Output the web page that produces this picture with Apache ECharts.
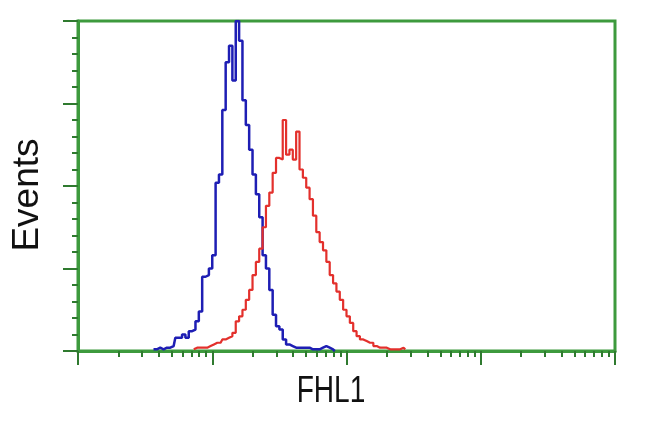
<!DOCTYPE html>
<html>
<head>
<meta charset="utf-8">
<script src="https://cdn.jsdelivr.net/npm/echarts@6/dist/echarts.min.js"></script>
<style>html,body{margin:0;padding:0;background:#fff}#c{width:650px;height:432px}</style>
</head>
<body>
<div id="c"></div>
<script>
// x axis in decades (log10 of FHL1 intensity), histogram bins of 1/40 decade
const binWidth = 1 / 40;
const blueStart = 0.55;
const redStart = 0.85;
const blueCounts = [1,1,2,1,2,2,3,8,8,10,8,12,13,18,24,45,46,50,58,102,107,146,175,185,164,200,188,152,137,122,107,95,81,58,50,37,22,15,13,7,4,3,2,2,2,2,2,1,1,1,2,3,2,1,0];
const redCounts = [1,2,2,2,2,3,4,5,5,7,8,9,11,18,21,25,31,37,46,54,62,75,88,96,108,117,116,140,119,122,116,133,110,105,99,92,82,72,66,61,54,46,41,36,31,25,21,17,12,9,7,6,5,5,3,2,2,2,1,1,1,1,2,1];
const majorDecades = [0, 1, 2, 3, 4];
const minorMultipliers = [2, 3, 4, 5, 6, 7, 8, 9];
const yMax = 200, yInterval = 50;
const xLabel = 'FHL1', yLabel = 'Events';

function toPairs(start, counts) {
  return counts.map((c, i) => [start + (i + 0.5) * binWidth, c]);
}
const minorTicks = [];
for (let k = 0; k < 4; k++) minorMultipliers.forEach(m => minorTicks.push(k + Math.log10(m)));

const green = '#3d9a3d', tickGreen = '#2f7a2f';
const chart = echarts.init(document.getElementById('c'), null, {renderer: 'canvas'});
chart.setOption({
  animation: false,
  backgroundColor: '#fff',
  grid: {left: 78, right: 35, top: 21, bottom: 81, show: true, borderColor: green, borderWidth: 3, backgroundColor: 'transparent'},
  xAxis: [
    {type: 'value', min: 0, max: 4, position: 'bottom',
     axisLine: {show: true, lineStyle: {color: green, width: 3}},
     axisTick: {show: true, inside: false, length: 14, customValues: majorDecades, lineStyle: {color: tickGreen, width: 2}},
     axisLabel: {show: false}, splitLine: {show: false}},
    {type: 'value', min: 0, max: 4, position: 'bottom',
     axisLine: {show: false},
     axisTick: {show: true, inside: false, length: 6, customValues: minorTicks, lineStyle: {color: tickGreen, width: 2}},
     axisLabel: {show: false}, splitLine: {show: false}}
  ],
  yAxis: {type: 'value', min: 0, max: yMax, interval: yInterval,
    axisLine: {show: true, lineStyle: {color: green, width: 3}},
    axisTick: {show: true, inside: false, length: 15, lineStyle: {color: tickGreen, width: 2}},
    minorTick: {show: true, splitNumber: 5, length: 6, lineStyle: {color: tickGreen, width: 2}},
    axisLabel: {show: false}, splitLine: {show: false}, minorSplitLine: {show: false}},
  series: [
    {type: 'line', step: 'middle', showSymbol: false, symbol: 'none', data: toPairs(blueStart, blueCounts),
     lineStyle: {color: '#1e1eb4', width: 2.5}, z: 3},
    {type: 'line', step: 'middle', showSymbol: false, symbol: 'none', data: toPairs(redStart, redCounts),
     lineStyle: {color: '#e3302c', width: 2.2}, z: 4}
  ],
  graphic: [
    {type: 'text', x: 331, y: 392, scaleX: 0.78, style: {text: xLabel, font: '36px "Liberation Sans", Arial, sans-serif', fill: '#111', textAlign: 'center', textVerticalAlign: 'middle'}},
    {type: 'text', x: 28, y: 195, rotation: Math.PI / 2, style: {text: yLabel, font: '37px "Liberation Sans", Arial, sans-serif', fill: '#111', textAlign: 'center', textVerticalAlign: 'middle'}}
  ]
});
</script>
</body>
</html>
